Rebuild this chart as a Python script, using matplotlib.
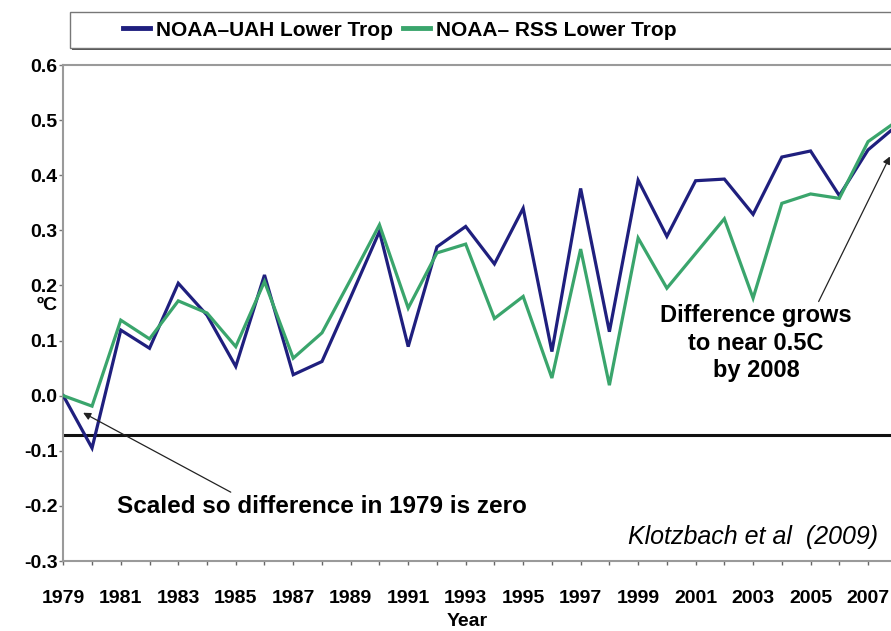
import matplotlib
matplotlib.use('Agg')
import matplotlib.pyplot as plt
from matplotlib.patches import Rectangle
from matplotlib.lines import Line2D
import numpy as np

plt.rcParams['font.family'] = ['Liberation Sans', 'DejaVu Sans']

# data (deg C, scaled so 1979 = 0)
years = list(range(1979, 2009))
uah_diff = [0.0, -0.095, 0.119, 0.086, 0.204, 0.146, 0.053, 0.219, 0.038, 0.062,
            0.179, 0.298, 0.089, 0.270, 0.307, 0.239, 0.340, 0.080, 0.376, 0.116,
            0.391, 0.289, 0.390, 0.393, 0.329, 0.433, 0.444, 0.363, 0.446, 0.490]
rss_diff = [0.0, -0.019, 0.137, 0.103, 0.172, 0.150, 0.089, 0.207, 0.068, 0.114,
            0.211, 0.310, 0.159, 0.259, 0.275, 0.140, 0.180, 0.032, 0.266, 0.019,
            0.286, 0.195, 0.258, 0.321, 0.177, 0.349, 0.366, 0.358, 0.461, 0.498]
series_names = ['NOAA\u2013UAH Lower Trop', 'NOAA\u2013 RSS Lower Trop']
ref_level = -0.071
yticks = [-0.3, -0.2, -0.1, 0.0, 0.1, 0.2, 0.3, 0.4, 0.5, 0.6]

blue = '#1f1f7e'
green = '#3aa56c'

W, H = 891, 631
fig = plt.figure(figsize=(W / 100, H / 100), dpi=100)

def px(x, y):
    # pixel (from top-left) -> figure fraction
    return x / W, 1 - y / H

# plot area: 1979 at x=63.3, 2008 past right edge; 0.6 at y=65, -0.3 at y=561
ax = fig.add_axes([63.3 / W, (H - 561) / H, (896.8 - 63.3) / W, (561 - 65) / H])
ax.plot(years, uah_diff, color=blue, lw=2.3, solid_joinstyle='miter', zorder=3)
ax.plot(years, rss_diff, color=green, lw=2.3, solid_joinstyle='miter', zorder=3)
ax.axhline(ref_level, color='#111111', lw=2.2, zorder=2)

ax.set_xlim(1979, 2008)
ax.set_ylim(-0.3, 0.6)
ax.set_yticks(yticks)
ax.set_yticklabels(['%.1f' % round(v, 1) for v in yticks], fontsize=14, fontweight='bold')
ax.set_xticks(years)
ax.set_xticklabels([str(y) if (y - 1979) % 2 == 0 else '' for y in years],
                   fontsize=14, fontweight='bold')
ax.tick_params(axis='y', length=3, width=1, color='#777777', pad=1)
ax.tick_params(axis='x', length=3, width=1, color='#666666', pad=18)

for s in ['left', 'bottom', 'top']:
    ax.spines[s].set_color('#9a9a9a')
    ax.spines[s].set_linewidth(1.5)
ax.spines['right'].set_visible(False)

# annotations
ax.annotate('Scaled so difference in 1979 is zero',
            xy=(1979.69, -0.031), xytext=(1980.87, -0.201),
            fontsize=17.5, fontweight='bold', ha='left', va='center',
            arrowprops=dict(arrowstyle='-|>', color='#222222', lw=0.9,
                            mutation_scale=11, shrinkA=0, shrinkB=0,
                            relpos=(0.29, 1.0)))
ax.annotate('Difference grows\nto near 0.5C\nby 2008',
            xy=(2007.76, 0.434), xytext=(2003.1, 0.095),
            fontsize=17, fontweight='bold', ha='center', va='center',
            linespacing=1.25,
            arrowprops=dict(arrowstyle='-|>', color='#222222', lw=0.9,
                            mutation_scale=11, shrinkA=0, shrinkB=0,
                            relpos=(0.82, 1.0)))
ax.text(2007.35, -0.257, 'Klotzbach et al  (2009)', fontsize=18, fontstyle='italic',
        ha='right', va='center')

fig.text(*px(47, 306), '\u00baC', fontsize=14, fontweight='bold', ha='center', va='center')
fig.text(*px(467, 621), 'Year', fontsize=14, fontweight='bold', ha='center', va='center')

# legend box with shadow, running off the right edge
x0, y0 = px(70, 48)
fig.patches.append(Rectangle((x0 + 2 / W, y0 - 2 / H), 830 / W, 36 / H,
                             transform=fig.transFigure, facecolor='#555555',
                             edgecolor='none', zorder=1))
fig.patches.append(Rectangle((x0, y0), 830 / W, 36 / H, transform=fig.transFigure,
                             facecolor='white', edgecolor='#777777', lw=1, zorder=2))
handles = [Line2D([], [], color=blue, lw=3.5), Line2D([], [], color=green, lw=3.5)]
fig.legend(handles, series_names, loc='center left', bbox_to_anchor=px(123, 30),
           ncol=2, frameon=False, borderaxespad=0, borderpad=0,
           handlelength=1.3, handletextpad=0.3, columnspacing=0.45,
           prop={'size': 15, 'weight': 'bold'})

fig.savefig('out.png', dpi=100)
